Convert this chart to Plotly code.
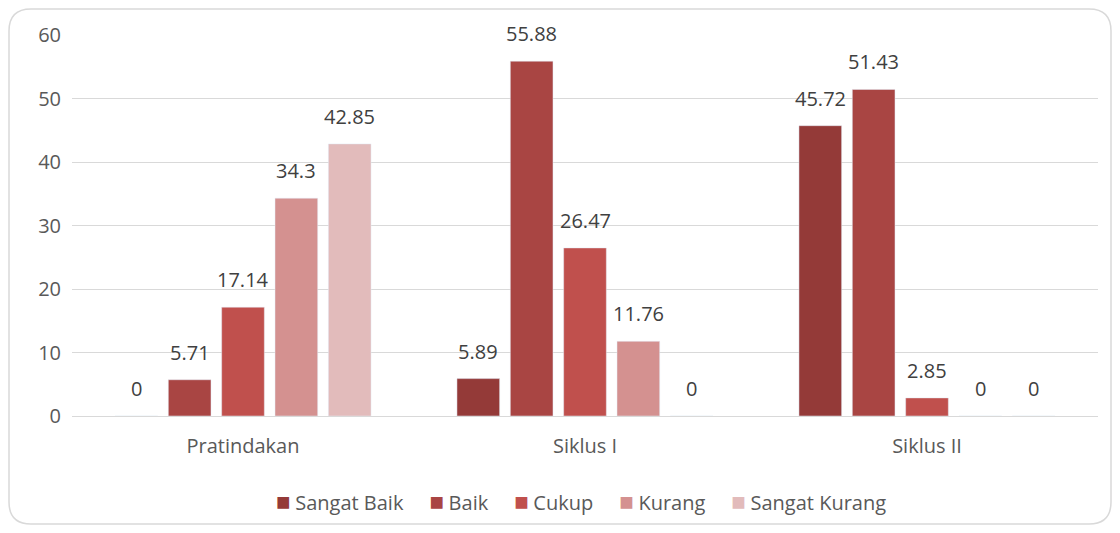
import plotly.graph_objects as go

categories = ["Pratindakan", "Siklus I", "Siklus II"]
series_names = ["Sangat Baik", "Baik", "Cukup", "Kurang", "Sangat Kurang"]
sangat_baik = [0, 5.89, 45.72]
baik = [5.71, 55.88, 51.43]
cukup = [17.14, 26.47, 2.85]
kurang = [34.3, 11.76, 0]
sangat_kurang = [42.85, 0, 0]
colors = ["#943A38", "#A94543", "#C0504D", "#D49190", "#E2BBBB"]

# page adds an 8px body margin, so the figure is sized to sit inside it
W, H = 1104, 517
ml, mr, mt, mb = 64, 14, 27, 109
FONT = "Open Sans"
GREY = "#595959"
BARGAP = 0.22

fig = go.Figure()
all_series = [sangat_baik, baik, cukup, kurang, sangat_kurang]
n = len(all_series)
slot = (1 - BARGAP) / n
for k, (name, vals, col) in enumerate(zip(series_names, all_series, colors)):
    fig.add_trace(go.Bar(x=categories, y=vals, name=name, marker_color=col))
    # value labels sit a bit higher above the bars than plotly's outside text
    for i, v in enumerate(vals):
        fig.add_annotation(x=i + (k - (n - 1) / 2) * slot, y=v, text=f"{v:g}",
                           showarrow=False, yanchor="bottom", yshift=12,
                           font=dict(family=FONT, size=20, color="#404040"))

# rounded frame around the whole chart (pixel -> paper)
pw, ph = W - ml - mr, H - mt - mb
def px(x):
    return (x - ml) / pw
def py(y):
    return (H - mb - y) / ph
x0, x1, y0, y1, r = 1, W - 1, 1, H - 1, 22
path = (f"M {px(x0 + r)},{py(y0)} L {px(x1 - r)},{py(y0)} "
        f"Q {px(x1)},{py(y0)} {px(x1)},{py(y0 + r)} L {px(x1)},{py(y1 - r)} "
        f"Q {px(x1)},{py(y1)} {px(x1 - r)},{py(y1)} L {px(x0 + r)},{py(y1)} "
        f"Q {px(x0)},{py(y1)} {px(x0)},{py(y1 - r)} L {px(x0)},{py(y0 + r)} "
        f"Q {px(x0)},{py(y0)} {px(x0 + r)},{py(y0)} Z")
fig.add_shape(type="path", path=path, xref="paper", yref="paper",
              line=dict(color="#D9D9D9", width=1.5), layer="below")

# legend drawn as text so the swatch/label spacing matches
legend_txt = "<span style='font-size:20px'>     </span>".join(
    f"<span style='color:{c};font-size:24px'>■</span><span style='font-size:18px'> </span>{nm}"
    for nm, c in zip(series_names, colors))
fig.add_annotation(text=legend_txt, xref="paper", yref="paper",
                   x=px(573), y=py(493), xanchor="center", yanchor="middle",
                   showarrow=False, font=dict(family=FONT, size=20, color=GREY))

fig.update_layout(
    width=W, height=H,
    margin=dict(l=ml, r=mr, t=mt, b=mb, autoexpand=False),
    paper_bgcolor="white", plot_bgcolor="white",
    font=dict(family=FONT, size=20, color=GREY),
    barmode="group", bargap=BARGAP, bargroupgap=0.2,
    showlegend=False,
    yaxis=dict(range=[0, 60], dtick=10, showgrid=True, gridcolor="#D9D9D9",
               gridwidth=1.3, zeroline=False, ticks="", ticklabelstandoff=10,
               tickfont=dict(family=FONT, size=20, color=GREY)),
    xaxis=dict(showline=True, linecolor="#D9D9D9", linewidth=1.3, ticks="",
               tickfont=dict(family=FONT, size=20, color=GREY), ticklabelstandoff=12),
)

fig.write_html("out.html")
